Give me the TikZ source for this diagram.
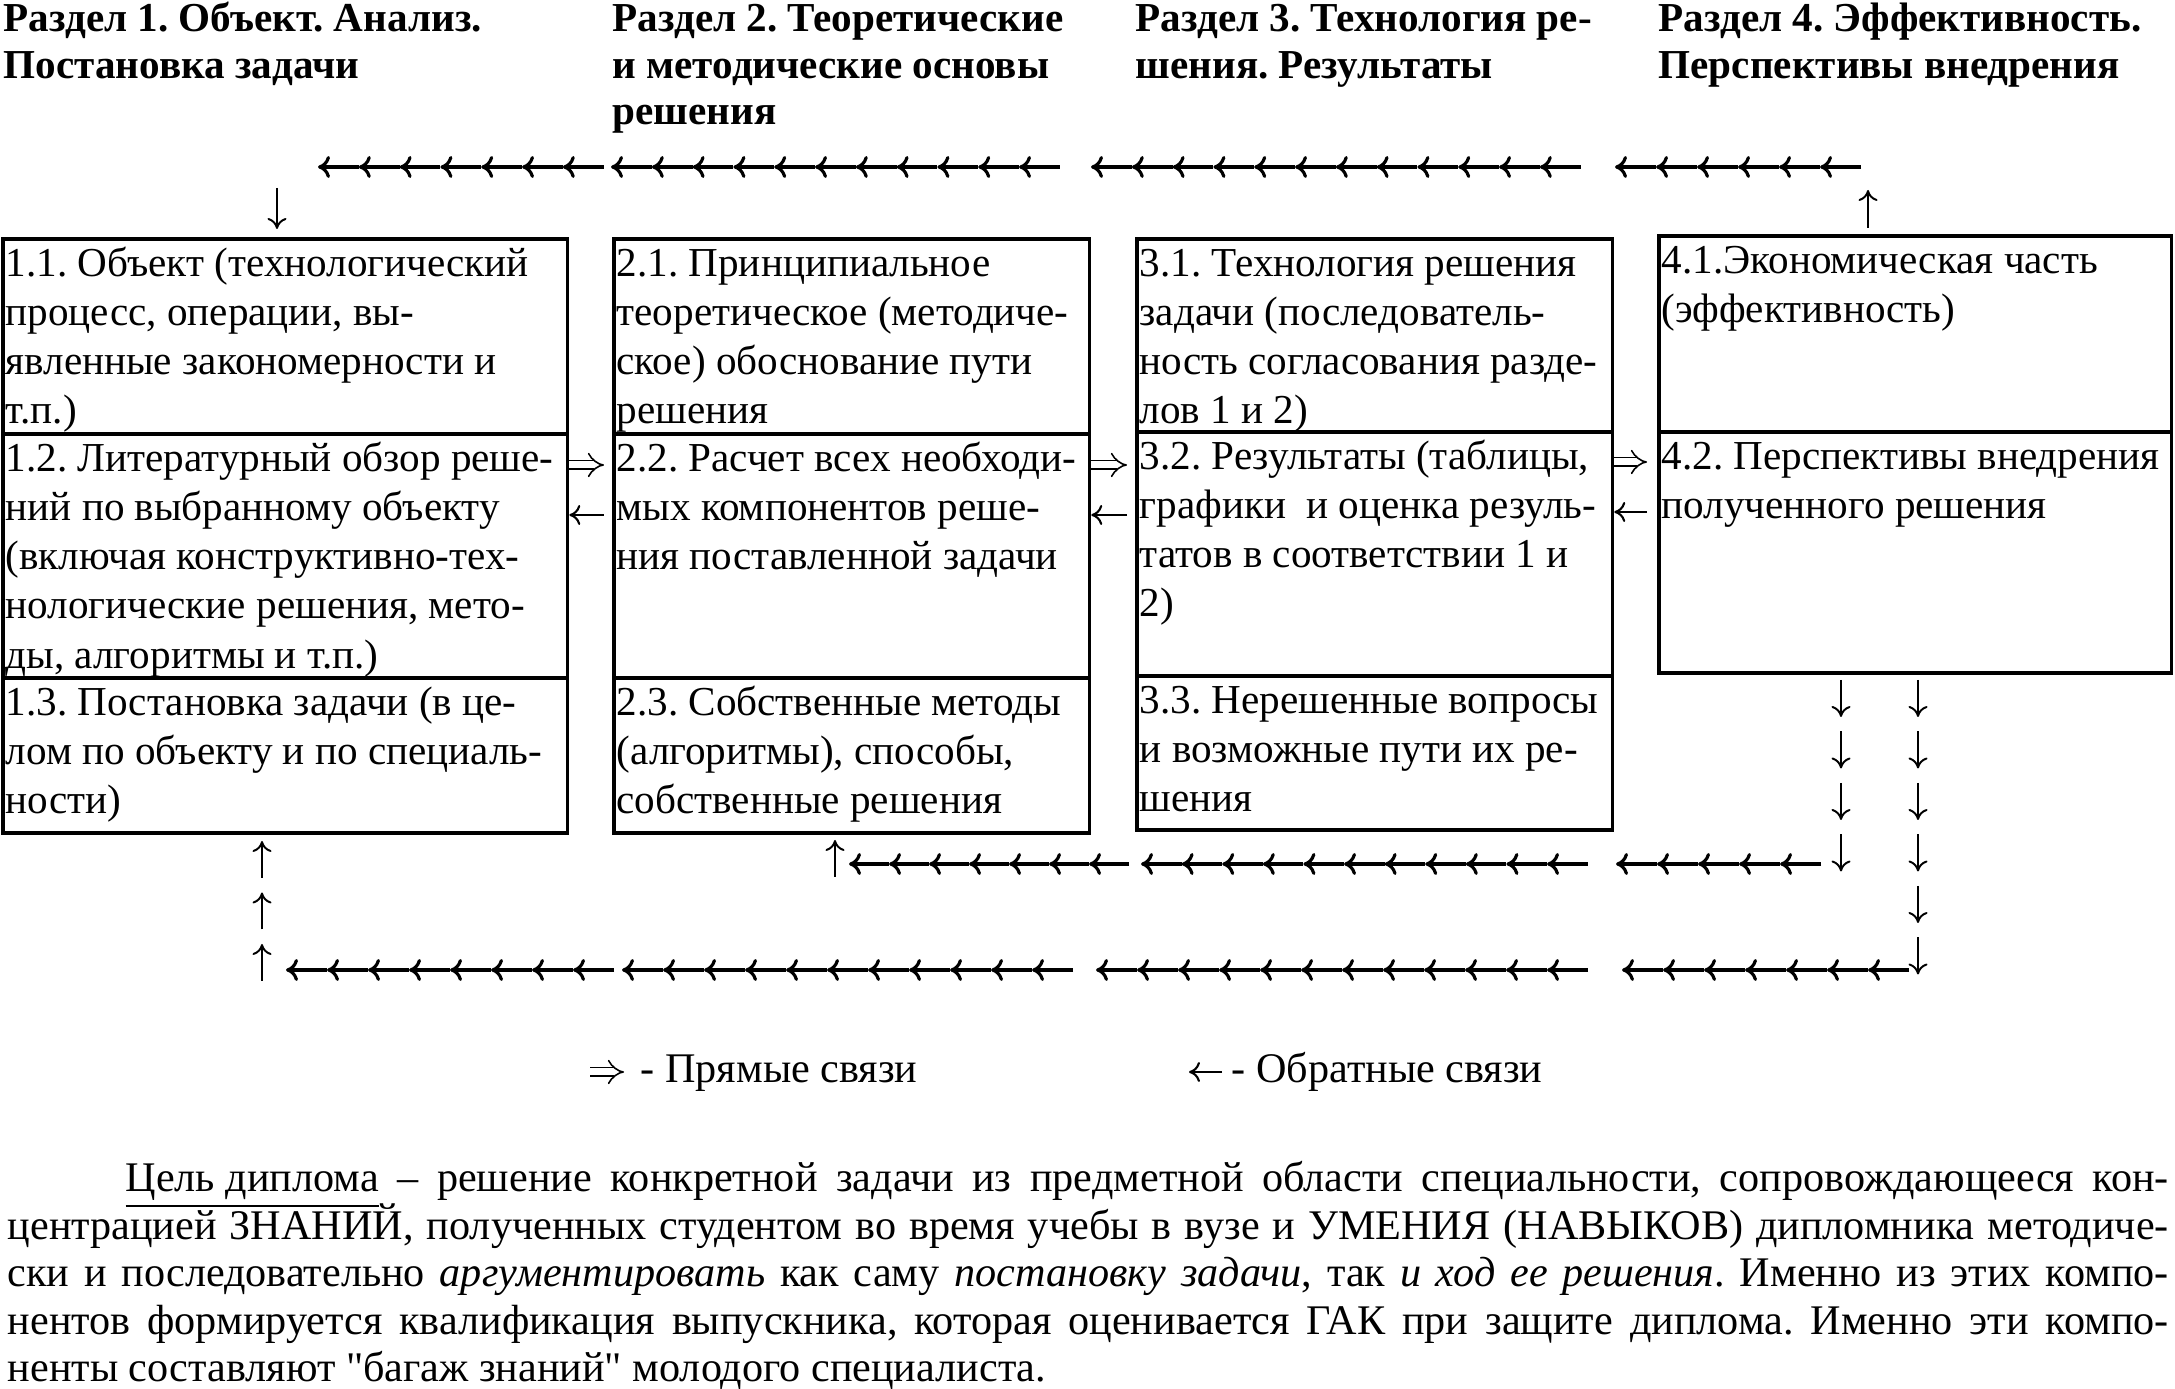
\documentclass[tikz,border=0pt]{standalone}
\usepackage{fontspec}
\setmainfont{Liberation Serif}
\newfontfamily\plainquote{Liberation Serif}[Ligatures=TeXOff]
\usetikzlibrary{arrows.meta,calc}
\frenchspacing
\newcommand{\glyphrow}[3]{%
  \foreach \k in {1,...,#2}{%
    \draw[rowglyph] ($(#1)+({\k*#3},0)$) -- ($(#1)+({(\k-1)*#3},0)$);}}
\newcommand{\glyphcol}[4]{%
  \foreach \k in {1,...,#2}{%
    \draw[colglyph] ($(#1)+(0,{(\k-1)*#3})$) -- ++(0,#4);}}
\tikzset{
  secbox/.style={draw, line width=1pt, anchor=north west, inner sep=0pt, outer sep=0pt},
  sectext/.style={anchor=north west, inner sep=0pt, align=left, font=\fontsize{11.7}{14}\selectfont},
  headtext/.style={anchor=north west, inner sep=0pt, align=left, font=\bfseries\fontsize{11.7}{13.3}\selectfont},
  bodytext/.style={anchor=base west, inner sep=0pt, font=\fontsize{12}{14}\selectfont},
  rowglyph/.style={line width=0.9pt, -{Computer Modern Rightarrow[length=0.12cm,width=0.22cm]}},
  colglyph/.style={line width=0.55pt, -{Computer Modern Rightarrow[length=0.11cm,width=0.19cm]}},
  fwd/.style={double, double distance=0.07cm, line width=0.45pt, -{Implies}},
  bwd/.style={line width=0.6pt, -{Computer Modern Rightarrow[length=0.11cm,width=0.2cm]}},
}
\begin{document}
\begin{tikzpicture}[x=0.01cm,y=-0.01cm]
\fill[white] (0,0) rectangle (2175,1389);
\useasboundingbox (0,0) rectangle (2175,1389);

% headings
\node[headtext] (h1) at (3,-2) {\strut Раздел 1. Объект. Анализ.\\Постановка задачи};
\node[headtext] (h2) at (612,-2) {\strut Раздел 2. Теоретические\\и методические основы\\решения};
\node[headtext] (h3) at (1135,-2) {\strut Раздел 3. Технология ре-\\шения. Результаты};
\node[headtext] (h4) at (1658,-2) {\strut Раздел 4. Эффективность.\\Перспективы внедрения};

% boxes
\node[secbox, minimum width=5.64cm, minimum height=1.95cm] (s11) at (3,239) {};
\node[secbox, minimum width=5.64cm, minimum height=2.44cm] (s12) at (3,434) {};
\node[secbox, minimum width=5.64cm, minimum height=1.55cm] (s13) at (3,678) {};
\node[secbox, minimum width=4.75cm, minimum height=1.95cm] (s21) at (614,239) {};
\node[secbox, minimum width=4.75cm, minimum height=2.44cm] (s22) at (614,434) {};
\node[secbox, minimum width=4.75cm, minimum height=1.55cm] (s23) at (614,678) {};
\node[secbox, minimum width=4.75cm, minimum height=1.93cm] (s31) at (1137,239) {};
\node[secbox, minimum width=4.75cm, minimum height=2.44cm] (s32) at (1137,432) {};
\node[secbox, minimum width=4.75cm, minimum height=1.54cm] (s33) at (1137,676) {};
\node[secbox, minimum width=5.12cm, minimum height=1.96cm] (s41) at (1659,236) {};
\node[secbox, minimum width=5.12cm, minimum height=2.41cm] (s42) at (1659,432) {};

% box texts
\node[sectext] (t11) at ($(s11.north west)+(2,2)$) {\strut 1.1. Объект (технологический\\процесс, операции, вы-\\явленные закономерности и\\т.п.)};
\node[sectext] (t12) at ($(s12.north west)+(2,2)$) {\strut 1.2. Литературный обзор реше-\\ний по выбранному объекту\\(включая конструктивно-тех-\\нологические решения, мето-\\ды, алгоритмы и т.п.)};
\node[sectext] (t13) at ($(s13.north west)+(2,2)$) {\strut 1.3. Постановка задачи (в це-\\лом по объекту и по специаль-\\ности)};
\node[sectext] (t21) at ($(s21.north west)+(2,2)$) {\strut 2.1. Принципиальное\\теоретическое (методиче-\\ское) обоснование пути\\решения};
\node[sectext] (t22) at ($(s22.north west)+(2,2)$) {\strut 2.2. Расчет всех необходи-\\мых компонентов реше-\\ния поставленной задачи};
\node[sectext] (t23) at ($(s23.north west)+(2,2)$) {\strut 2.3. Собственные методы\\(алгоритмы), способы,\\собственные решения};
\node[sectext] (t31) at ($(s31.north west)+(2,2)$) {\strut 3.1. Технология решения\\задачи (последователь-\\ность согласования разде-\\лов 1 и 2)};
\node[sectext] (t32) at ($(s32.north west)+(2,2)$) {\strut 3.2. Результаты (таблицы,\\графики\ \ и оценка резуль-\\татов в соответствии 1 и\\2)};
\node[sectext] (t33) at ($(s33.north west)+(2,2)$) {\strut 3.3. Нерешенные вопросы\\и возможные пути их ре-\\шения};
\node[sectext] (t41) at ($(s41.north west)+(2,2)$) {\strut 4.1.Экономическая часть\\(эффективность)};
\node[sectext] (t42) at ($(s42.north west)+(2,2)$) {\strut 4.2. Перспективы внедрения\\полученного решения};

% direct (forward) and feedback links between neighbouring boxes
\coordinate (fy) at (0,465);
\coordinate (by) at (0,515);
\draw[fwd, shorten <=0.02cm, shorten >=0.1cm] (s12.east |- fy) -- (s22.west |- fy);
\draw[bwd, shorten <=0.1cm, shorten >=0.02cm] (s22.west |- by) -- (s12.east |- by);
\draw[fwd, shorten <=0.02cm, shorten >=0.1cm] (s22.east |- fy) -- (s32.west |- fy);
\draw[bwd, shorten <=0.1cm, shorten >=0.02cm] (s32.west |- by) -- (s22.east |- by);
\coordinate (fy2) at (0,462);
\coordinate (by2) at (0,512);
\draw[fwd, shorten <=0.02cm, shorten >=0.12cm] (s32.east |- fy2) -- (s42.west |- fy2);
\draw[bwd, shorten <=0.12cm, shorten >=0.02cm] (s42.west |- by2) -- (s32.east |- by2);

% top feedback loop: box 4 -> box 1
\coordinate (u4a) at (1868,228);
\coordinate (u4b) at (1868,190);
\draw[colglyph] (u4a) -- (u4b);
\coordinate (tA) at (318,167);
\coordinate (tB) at (611,167);
\coordinate (tC) at (1091,167);
\coordinate (tD) at (1615,167);
\glyphrow{tD}{6}{41}
\glyphrow{tC}{12}{40.8}
\glyphrow{tB}{11}{40.8}
\glyphrow{tA}{7}{40.8}
\coordinate (d1a) at (277,188);
\coordinate (d1b) at (277,229);
\draw[colglyph] (d1a) -- (d1b);

% lower loop 1: box 4 -> box 2
\coordinate (c1) at (1841,680);
\glyphcol{c1}{4}{51.5}{37}
\coordinate (rA) at (849,864);
\coordinate (rB) at (1141,864);
\coordinate (rC) at (1616,864);
\glyphrow{rC}{5}{41}
\glyphrow{rB}{11}{40.6}
\glyphrow{rA}{7}{40}
\coordinate (u2a) at (835,877);
\coordinate (u2b) at (835,840);
\draw[colglyph] (u2a) -- (u2b);

% lower loop 2: box 4 -> box 1
\coordinate (c2) at (1918,680);
\glyphcol{c2}{6}{51.5}{37}
\coordinate (qA) at (286,970);
\coordinate (qB) at (622,970);
\coordinate (qC) at (1096,970);
\coordinate (qD) at (1622,970);
\glyphrow{qD}{7}{41}
\glyphrow{qC}{12}{41}
\glyphrow{qB}{11}{41}
\glyphrow{qA}{8}{41}
\coordinate (c3) at (262,981);
\glyphcol{c3}{3}{-51.5}{-37}

% legend
\coordinate (lf) at (590,1072);
\draw[fwd] (lf) -- ++(34,0);
\node[bodytext] (lt1) at (640,1083) {- Прямые связи};
\coordinate (lb) at (1222,1072);
\draw[bwd] (lb) -- ++(-33,0);
\node[bodytext] (lt2) at (1231,1083) {- Обратные связи};

% paragraph
\node[bodytext] (p1) at (125,1192) {\makebox[20.42cm][s]{\underline{Цель диплома} – решение конкретной задачи из предметной области специальности, сопровождающееся кон-}};
\node[bodytext] (p2) at (7,1239.5) {\makebox[21.6cm][s]{центрацией ЗНАНИЙ, полученных студентом во время учебы в вузе и УМЕНИЯ (НАВЫКОВ) дипломника методиче-}};
\node[bodytext] (p3) at (7,1287) {\makebox[21.6cm][s]{ски и последовательно \textit{аргументировать} как саму \textit{постановку задачи}, так \textit{и ход ее решения}. Именно из этих компо-}};
\node[bodytext] (p4) at (7,1334.5) {\makebox[21.6cm][s]{нентов формируется квалификация выпускника, которая оценивается ГАК при защите диплома. Именно эти компо-}};
\node[bodytext] (p5) at (7,1382) {ненты составляют {\plainquote "}багаж знаний{\plainquote "} молодого специалиста.};
\end{tikzpicture}
\end{document}
